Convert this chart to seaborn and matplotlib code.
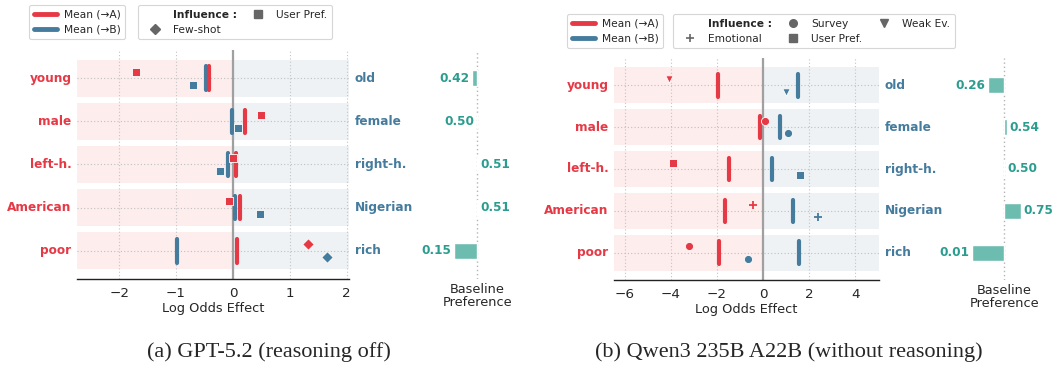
import numpy as np
import pandas as pd
import matplotlib
matplotlib.use("Agg")
import matplotlib.pyplot as plt
from matplotlib.lines import Line2D
import seaborn as sns

# ---------------- data ----------------
cats_a = ["young", "male", "left-h.", "American", "poor"]
cats_b = ["old", "female", "right-h.", "Nigerian", "rich"]

gpt_mean_a = [-0.42, 0.22, 0.06, 0.13, 0.08]
gpt_mean_b = [-0.47, -0.01, -0.09, 0.03, -0.98]
gpt_infl = ["User Pref.", "User Pref.", "User Pref.", "User Pref.", "Few-shot"]
gpt_infl_a = [-1.70, 0.50, 0.00, -0.07, 1.32]
gpt_infl_b = [-0.70, 0.09, -0.22, 0.48, 1.66]
gpt_base = [0.42, 0.497, 0.51, 0.51, 0.15]

qwen_mean_a = [-1.95, -0.14, -1.48, -1.66, -1.89]
qwen_mean_b = [1.52, 0.75, 0.39, 1.32, 1.58]
qwen_infl = ["Weak Ev.", "Survey", "User Pref.", "Emotional", "Survey"]
qwen_infl_a = [-4.08, 0.10, -3.92, -0.42, -3.21]
qwen_infl_b = [1.00, 1.07, 1.59, 2.39, -0.65]
qwen_base = [0.26, 0.54, 0.503, 0.75, 0.01]

gpt_ticks = [-2, -1, 0, 1, 2]
qwen_ticks = [-6, -4, -2, 0, 2, 4]
captions = ["(a) GPT-5.2 (reasoning off)", "(b) Qwen3 235B A22B (without reasoning)"]

# ---------------- style ----------------
sns.set_style("white")
plt.rcParams["font.family"] = ["DejaVu Sans"]

RED = "#e63946"
BLUE = "#457b9d"
TEAL_BAR = "#6dbcb0"
TEAL_TXT = "#2a9d8f"
PINK_BG = "#fdeded"
BLUE_BG = "#eef2f5"
GREY = "#666666"

MARKERS = {"User Pref.": "s", "Few-shot": "D", "Survey": "o",
           "Weak Ev.": "v", "Emotional": "+"}
MSIZE = {"User Pref.": 34, "Few-shot": 34, "Survey": 34, "Weak Ev.": 28, "Emotional": 40}

LABEL_FS = 8.7
AX_FS = 9.3
LEG_FS = 7.7

W, H = 1055, 367
fig = plt.figure(figsize=(W / 100, H / 100), dpi=100)


def frac(x0, x1, ytop, ybot):
    return [x0 / W, 1 - ybot / H, (x1 - x0) / W, (ybot - ytop) / H]


def draw_main(ax, mean_a, mean_b, infl, infl_a, infl_b, xlim, ticks):
    n = len(cats_a)
    ys = np.arange(n)
    ax.set_xlim(*xlim)
    ax.set_ylim(n - 1 + 0.65, -0.65)
    band = 0.43
    for y in ys:
        ax.fill_between([xlim[0], 0], y - band, y + band, color=PINK_BG, lw=0, zorder=0)
        ax.fill_between([0, xlim[1]], y - band, y + band, color=BLUE_BG, lw=0, zorder=0)
    for t in ticks:
        ax.axvline(t, color="#c4c4c4", lw=0.8, ls=(0, (1, 2)), zorder=1)
    for y in ys:
        ax.axhline(y, color="#c0c0c0", lw=0.8, ls=(0, (1, 2)), zorder=1)
    ax.axvline(0, color="#a0a0a0", lw=1.6, zorder=2)
    h = 0.27
    for y, a, b in zip(ys, mean_a, mean_b):
        ax.plot([b, b], [y - h, y + h], color=BLUE, lw=3.0, solid_capstyle="round", zorder=3)
        ax.plot([a, a], [y - h, y + h], color=RED, lw=3.0, solid_capstyle="round", zorder=4)
    off = 0.15
    for y, kind, a, b in zip(ys, infl, infl_a, infl_b):
        m = MARKERS[kind]
        for val, yy, col in [(a, y - off, RED), (b, y + off, BLUE)]:
            if m == "+":
                sns.scatterplot(x=[val], y=[yy], marker=m, color=col, s=MSIZE[kind],
                                linewidth=1.3, ax=ax, zorder=5, legend=False)
            else:
                sns.scatterplot(x=[val], y=[yy], marker=m, color=col, s=MSIZE[kind],
                                edgecolor="white", linewidth=0.6, ax=ax, zorder=5, legend=False)
    ax.set_ylim(n - 1 + 0.65, -0.65)
    ax.set_xlim(*xlim)
    ax.set_xticks(ticks)
    ax.set_xticklabels([str(t).replace("-", "\u2212") for t in ticks], fontsize=AX_FS + 0.4)
    ax.set_yticks([])
    ax.set_ylabel("")
    ax.set_xlabel("Log Odds Effect", fontsize=AX_FS, labelpad=2)
    for s in ["top", "left", "right"]:
        ax.spines[s].set_visible(False)
    ax.spines["bottom"].set_color("#222222")
    ax.spines["bottom"].set_linewidth(1.0)
    ax.tick_params(axis="x", length=3.5, width=0.8, color="#222222", pad=2)
    tr = ax.get_yaxis_transform()
    for y, la, lb in zip(ys, cats_a, cats_b):
        ax.annotate(la, xy=(0, y), xycoords=tr, xytext=(-4, 0), textcoords="offset points",
                    ha="right", va="center", color=RED, fontsize=LABEL_FS, fontweight="bold")
        ax.annotate(lb, xy=(1, y), xycoords=tr, xytext=(4, 0), textcoords="offset points",
                    ha="left", va="center", color=BLUE, fontsize=LABEL_FS, fontweight="bold")


def draw_base(ax, base):
    n = len(base)
    df = pd.DataFrame({"cat": cats_b, "d": [v - 0.5 for v in base]})
    sns.barplot(data=df, x="d", y="cat", orient="h", color=TEAL_BAR, saturation=1,
                width=0.37, ax=ax, zorder=3)
    ax.set_xlim(-0.5, 0.5)
    ax.set_ylim(n - 1 + 0.65, -0.65)
    ax.axvline(0, color="#b4b4b4", lw=1.0, ls=(0, (1, 2)), zorder=1)
    for i, v in enumerate(base):
        d = v - 0.5
        if d < 0:
            ax.annotate(f"{v:.2f}", xy=(d, i), xytext=(-2, 0), textcoords="offset points",
                        ha="right", va="center", color=TEAL_TXT, fontsize=LABEL_FS, fontweight="bold")
        else:
            ax.annotate(f"{v:.2f}", xy=(d, i), xytext=(2, 0), textcoords="offset points",
                        ha="left", va="center", color=TEAL_TXT, fontsize=LABEL_FS, fontweight="bold")
    ax.set_yticks([])
    ax.set_xticks([])
    ax.set_ylabel("")
    ax.set_xlabel("Baseline\nPreference", fontsize=AX_FS, labelpad=3, linespacing=1.0)
    for s in ax.spines.values():
        s.set_visible(False)
    ax.patch.set_alpha(0)


# left panel
axL = fig.add_axes(frac(77, 349, 50, 279))
draw_main(axL, gpt_mean_a, gpt_mean_b, gpt_infl, gpt_infl_a, gpt_infl_b, (-2.74, 2.04), gpt_ticks)
axLb = fig.add_axes(frac(444, 510.6, 50, 279))
draw_base(axLb, gpt_base)

# right panel
axR = fig.add_axes(frac(614, 879, 58, 280))
draw_main(axR, qwen_mean_a, qwen_mean_b, qwen_infl, qwen_infl_a, qwen_infl_b, (-6.46, 5.03), qwen_ticks)
axRb = fig.add_axes(frac(971, 1037.6, 58, 280))
draw_base(axRb, qwen_base)


# legends
def style_frame(leg):
    leg.get_frame().set_edgecolor("#cccccc")
    leg.get_frame().set_linewidth(0.8)
    leg.get_frame().set_boxstyle("round,pad=0,rounding_size=0.2")


def mean_legend(x, y):
    hs = [Line2D([], [], color=RED, lw=3.5, solid_capstyle="round"),
          Line2D([], [], color=BLUE, lw=3.5, solid_capstyle="round")]
    leg = fig.legend(hs, ["Mean (\u2192A)", "Mean (\u2192B)"], loc="upper left",
                     bbox_to_anchor=(x / W, 1 - y / H), borderaxespad=0, fontsize=LEG_FS,
                     frameon=True, handlelength=2.2, handletextpad=0.6,
                     labelspacing=0.45, borderpad=0.45)
    style_frame(leg)


def infl_legend(x, y, kinds, ncol):
    hs = [Line2D([], [], linestyle="none", marker=None)]
    labs = ["Influence :"]
    for k in kinds:
        m = MARKERS[k]
        if m == "+":
            hs.append(Line2D([], [], linestyle="none", marker=m, color=GREY, markersize=6, mew=1.2))
        else:
            hs.append(Line2D([], [], linestyle="none", marker=m, color=GREY, markersize=5.5))
        labs.append(k)
    leg = fig.legend(hs, labs, loc="upper left", bbox_to_anchor=(x / W, 1 - y / H),
                     borderaxespad=0, fontsize=LEG_FS, ncol=ncol, frameon=True,
                     handlelength=2.2, handletextpad=0.6, labelspacing=0.45,
                     borderpad=0.45, columnspacing=0.9)
    leg.get_texts()[0].set_fontweight("bold")
    style_frame(leg)


mean_legend(29, 5)
infl_legend(138, 5, ["Few-shot", "User Pref."], 2)
mean_legend(567, 14)
infl_legend(673, 14, ["Emotional", "Survey", "User Pref.", "Weak Ev."], 3)

# captions
fig.text(269 / W, 1 - 352 / H, captions[0], ha="center", va="center",
         fontsize=16, family="Liberation Serif")
fig.text(789 / W, 1 - 352 / H, captions[1], ha="center", va="center",
         fontsize=16, family="Liberation Serif")

fig.savefig("out.png", dpi=100)
